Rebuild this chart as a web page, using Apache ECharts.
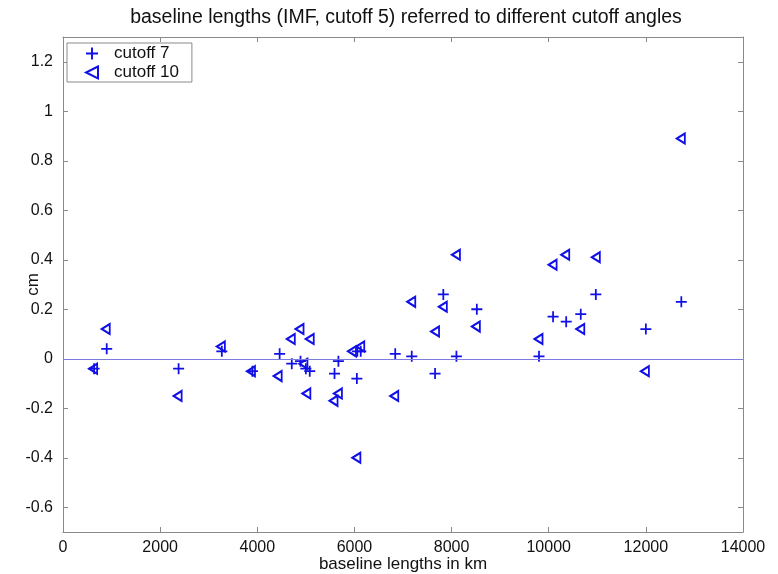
<!DOCTYPE html>
<html>
<head>
<meta charset="utf-8">
<script src="https://cdn.jsdelivr.net/npm/echarts@6/dist/echarts.min.js"></script>
<style>
html,body{margin:0;padding:0;background:#fff;}
#chart{width:778px;height:574px;}
</style>
</head>
<body>
<div id="chart"></div>
<script>
// ---- data (baseline length km, difference cm) ----
var cutoff7 = [
  [640,-0.04],[900,0.04],[2380,-0.04],[3270,0.03],[3900,-0.05],[4460,0.02],
  [4710,-0.02],[4890,-0.01],[5000,-0.04],[5080,-0.05],[5590,-0.06],[5670,-0.01],
  [6050,-0.08],[6060,0.03],[6130,0.03],[6840,0.02],[7180,0.01],[7660,-0.06],
  [7830,0.26],[8100,0.01],[8520,0.20],[9800,0.01],[10090,0.17],[10360,0.15],
  [10660,0.18],[10970,0.26],[12000,0.12],[12730,0.23]
];
var cutoff10 = [
  [620,-0.04],[880,0.12],[2360,-0.15],[3250,0.05],[3870,-0.05],[4420,-0.07],
  [4690,0.08],[4870,0.12],[4950,-0.02],[5010,-0.14],[5080,0.08],[5570,-0.17],
  [5660,-0.14],[5950,0.03],[6040,-0.40],[6120,0.05],[6820,-0.15],[7170,0.23],
  [7660,0.11],[7820,0.21],[8090,0.42],[8500,0.13],[9790,0.08],[10080,0.38],
  [10340,0.42],[10650,0.12],[10970,0.41],[11980,-0.05],[12720,0.89]
];
var xTicks = [0,2000,4000,6000,8000,10000,12000,14000];
var yTicks = [-0.6,-0.4,-0.2,0,0.2,0.4,0.6,0.8,1,1.2];
var seriesNames = ['cutoff 7','cutoff 10'];
var titleText = 'baseline lengths (IMF, cutoff 5) referred to different cutoff angles';
var xName = 'baseline lengths in km';
var yName = 'cm';

var BLUE = '#1010e6';
var FRAME = '#8a8a8a';
var FONT = '"Liberation Sans", Arial, sans-serif';
var plusPath = 'path://M4.2,0H5.8V4.2H10V5.8H5.8V10H4.2V5.8H0V4.2H4.2Z';
var triPath = 'path://M10,0L0,5L10,10Z';

var chart = echarts.init(document.getElementById('chart'), null, {renderer:'canvas'});

function baseX(pos, showLabels){
  return {
    type:'value', position:pos, min:0, max:14000, interval:2000,
    name: showLabels ? xName : '', nameLocation:'middle', nameGap:24,
    nameMoveOverlap:false,
    nameTextStyle:{fontFamily:FONT, fontSize:17, color:'#111'},
    axisLine:{show:true, onZero:false, lineStyle:{color:FRAME, width:1}},
    axisTick:{show:true, inside:true, length:5, lineStyle:{color:FRAME}, customValues:xTicks},
    axisLabel:{show:showLabels, fontFamily:FONT, fontSize:16, color:'#111', margin:8,
      customValues:xTicks, formatter:function(v){return String(v);}},
    splitLine:{show:false}
  };
}
function baseY(pos, showLabels){
  return {
    type:'value', position:pos, min:-0.7, max:1.3,
    name: showLabels ? yName : '', nameLocation:'middle', nameGap:21,
    nameMoveOverlap:false,
    nameTextStyle:{fontFamily:FONT, fontSize:17, color:'#111'},
    axisLine:{show:true, onZero:false, lineStyle:{color:FRAME, width:1}},
    axisTick:{show:true, inside:true, length:5, lineStyle:{color:FRAME}, customValues:yTicks},
    axisLabel:{show:showLabels, fontFamily:FONT, fontSize:16, color:'#111', margin:10, customValues:yTicks},
    splitLine:{show:false}
  };
}

var option = {
  backgroundColor:'#fff',
  animation:false,
  title:{
    text:titleText, left:401, top:3, textAlign:'center',
    textStyle:{fontFamily:FONT, fontSize:19.5, fontWeight:'normal', color:'#111'}
  },
  grid:{left:63, right:35, top:37, bottom:42, show:false, outerBoundsMode:'none', containLabel:false},
  legend:{
    orient:'vertical', left:67, top:43,
    padding:[2,13,1,18], itemGap:2,
    backgroundColor:'#fff', borderColor:FRAME, borderWidth:1,
    itemWidth:34, itemHeight:12,
    textStyle:{fontFamily:FONT, fontSize:17, color:'#111'},
    data:[
      {name:seriesNames[0], icon:plusPath, itemStyle:{color:BLUE, borderWidth:0}},
      {name:seriesNames[1], icon:triPath, itemStyle:{color:'rgba(0,0,0,0)', borderColor:BLUE, borderWidth:2}}
    ]
  },
  xAxis:[baseX('bottom', true), baseX('top', false)],
  yAxis:[baseY('left', true), baseY('right', false)],
  series:[
    {
      name:seriesNames[0], type:'scatter', xAxisIndex:0, yAxisIndex:0,
      data:cutoff7, symbol:plusPath, symbolSize:[11,11],
      itemStyle:{color:BLUE, opacity:1},
      z:3,
      markLine:{
        silent:true, symbol:['none','none'], label:{show:false},
        lineStyle:{color:'#7c7ce0', width:1, type:'solid'},
        data:[{yAxis:0}]
      }
    },
    {
      name:seriesNames[1], type:'scatter', xAxisIndex:0, yAxisIndex:0,
      data:cutoff10, symbol:triPath, symbolSize:[8,10],
      itemStyle:{color:'rgba(0,0,0,0)', borderColor:BLUE, borderWidth:2, opacity:1},
      z:3
    }
  ]
};
chart.setOption(option);
</script>
</body>
</html>
